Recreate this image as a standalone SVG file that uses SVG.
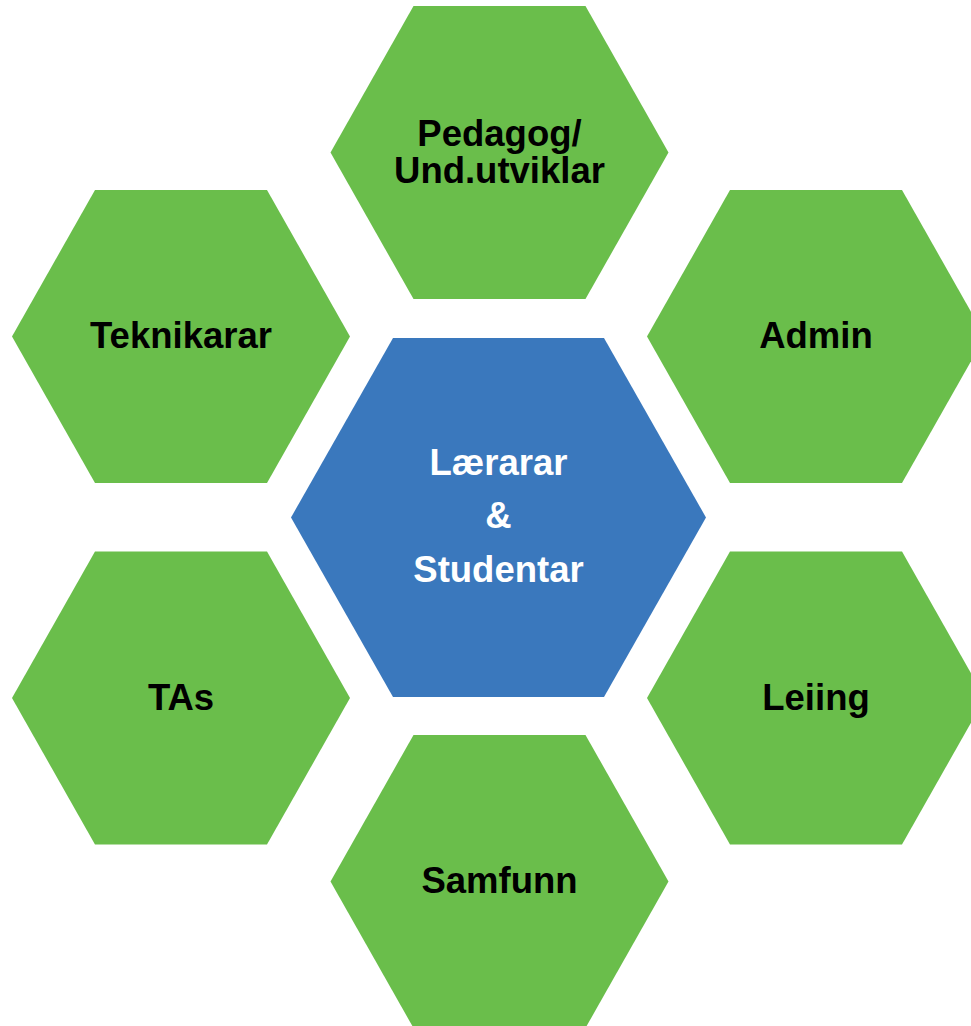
<svg xmlns="http://www.w3.org/2000/svg" width="971" height="1026" viewBox="0 0 971 1026">
<defs>
<style>
.g{fill:#6abe4b}
.b{fill:#3a78bd}
text{font-family:"Liberation Sans",Arial,sans-serif;font-weight:bold;font-size:36.5px;text-anchor:middle;fill:#000}
.w{fill:#fff}
</style>
<polygon id="hx" points="-169,0 -86,-146.5 86,-146.5 169,0 86,146.5 -86,146.5"/>
</defs>
<rect width="971" height="1026" fill="#fff"/>
<g id="connectors"/>
<g id="pedagog">
<use href="#hx" class="g" x="499.5" y="152.5"/>
<text x="499.5" y="146">Pedagog/</text>
<text x="499.5" y="183">Und.utviklar</text>
</g>
<g id="teknikarar">
<use href="#hx" class="g" x="181" y="336.5"/>
<text x="181" y="348">Teknikarar</text>
</g>
<g id="admin">
<use href="#hx" class="g" x="816" y="336.5"/>
<text x="816" y="348">Admin</text>
</g>
<g id="tas">
<use href="#hx" class="g" x="181" y="698"/>
<text x="181" y="710">TAs</text>
</g>
<g id="leiing">
<use href="#hx" class="g" x="816" y="698"/>
<text x="816" y="710">Leiing</text>
</g>
<g id="samfunn">
<use href="#hx" class="g" x="499.5" y="881.5"/>
<text x="499.5" y="893">Samfunn</text>
</g>
<g id="center">
<polygon class="b" points="291,517.5 393,338 604,338 706,517.5 604,697 393,697"/>
<text class="w" x="498.5" y="475">Lærarar</text>
<text class="w" x="498.5" y="528">&amp;</text>
<text class="w" x="498.5" y="582">Studentar</text>
</g>
</svg>
